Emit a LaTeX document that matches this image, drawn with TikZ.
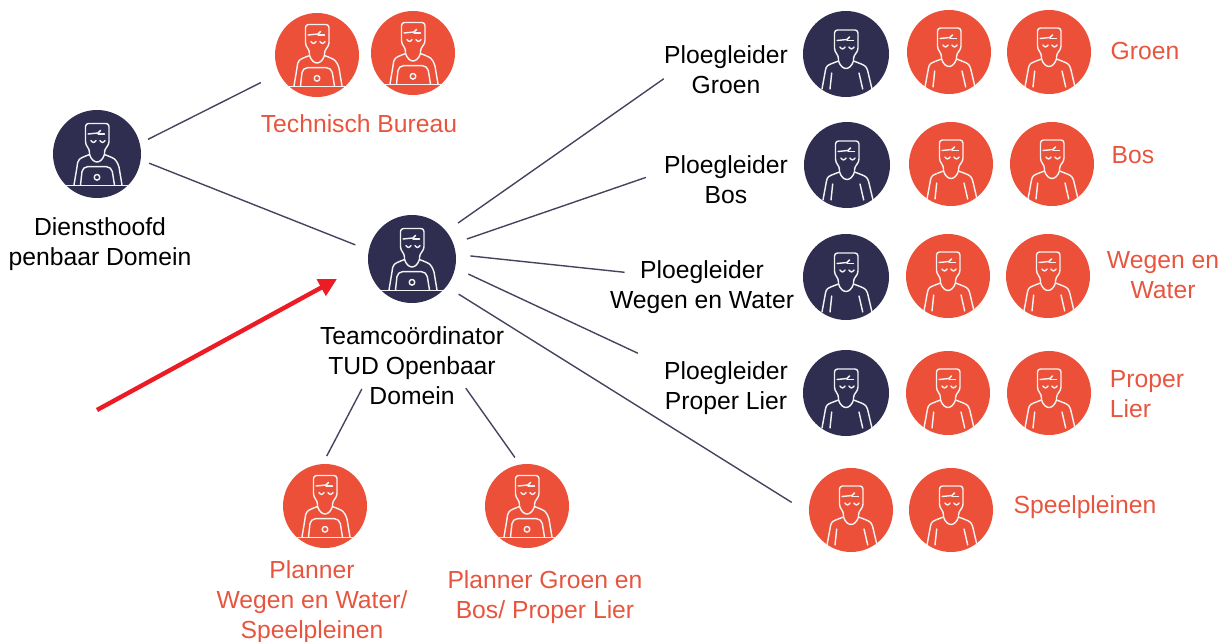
\documentclass[tikz,border=0pt]{standalone}
\usepackage{fontspec}
\setmainfont{Liberation Sans}
\usetikzlibrary{arrows.meta}

\definecolor{darkblue}{HTML}{2F2E50}
\definecolor{tomato}{HTML}{EC5039}
\definecolor{tomatotext}{HTML}{E8553F}
\definecolor{linkgray}{HTML}{45445F}
\definecolor{arrowred}{HTML}{ED1C24}

% head with hair and eyes, shared by both icons
\newcommand{\workerhead}{
    \draw[iconline, rounded corners=1.5pt] (-7.5,7) -- (-7.5,2) -- (-11.5,-3) -- (-11.5,-24) -- (12,-24) -- (12,-3) -- (7.5,2) -- (7.5,7);
    \draw[iconline] (-7.5,7) .. controls (-4,17) and (4,17) .. (7.5,7);
    \draw[iconline] (-9,-13.5) -- (1,-14.5) -- (3.5,-17);
    \draw[iconline] (1,-13.5) -- (7.5,-13.5);
    \draw[iconline] (-6,-7) .. controls (-4.5,-4.5) and (-2.5,-4.5) .. (-1,-7);
    \draw[iconline] (3,-7) .. controls (4.5,-4.5) and (6.5,-4.5) .. (8,-7);
}

\tikzset{
    darkperson/.style={circle, fill=darkblue, minimum size=44pt, inner sep=0pt, outer sep=7.2pt},
    rowperson/.style={darkperson, minimum size=43pt},
    redperson/.style={circle, fill=tomato, minimum size=42pt, inner sep=0pt, outer sep=4pt},
    iconline/.style={white!90!gray, line width=0.72pt, line cap=round, line join=round},
    link/.style={linkgray, line width=0.7pt},
    blacktext/.style={align=center, inner sep=0pt, text=black, font=\fontsize{12.35}{15}\selectfont},
    redtext/.style={blacktext, text=tomatotext},
    pics/worker/.style={code={
        \workerhead
        \draw[iconline] (-24,35) -- (-20.5,16) .. controls (-19.5,11.5) .. (-7.5,7);
        \draw[iconline] (7.5,7) .. controls (19.5,11.5) .. (21.5,16) -- (26,35);
        \draw[iconline] (-16,35) -- (-14.3,19);
        \draw[iconline] (16.7,35) -- (13,19);
    }},
    pics/laptopworker/.style={code={
        \begin{scope}[shift={(0,-6.5)}]
            \workerhead
        \end{scope}
        \draw[iconline] (-23,31) -- (-20,13) .. controls (-19,5) .. (-7.5,0.5);
        \draw[iconline] (7.5,0.5) .. controls (19,5) .. (22,13) -- (25,31);
        \draw[iconline, rounded corners=2.5pt] (-16.5,31) -- (-14.5,12.7) -- (14.5,12.7) -- (17.5,31);
        \draw[iconline] (0,23.3) circle (1.4pt);
        \draw[iconline] (-30.5,31.7) -- (31,31.7);
    }}
}

\begin{document}
\begin{tikzpicture}[x=0.5pt, y=-0.5pt]
    \useasboundingbox (0,0) rectangle (1227,642);

    % People with a laptop
    \foreach \name/\kind/\x/\y in {
        team/darkperson/412/259,
        tbone/redperson/317/55, tbtwo/redperson/413/53,
        plannerone/redperson/325/506, plannertwo/redperson/527/506} {
        \node[\kind] (\name) at (\x,\y) {};
        \pic at (\name) {laptopworker};
    }
    \node[darkperson, outer sep=4.5pt] (hoofd) at (97,154) {};
    \pic at (hoofd) {laptopworker};

    % People without a laptop, row by row
    \foreach \name/\kind/\x/\y in {
        groenlead/rowperson/846/54, groenone/redperson/949/52, groentwo/redperson/1049/52,
        boslead/rowperson/847/165, bosone/redperson/951/164, bostwo/redperson/1052/164,
        wegenlead/rowperson/846/277, wegenone/redperson/948/276, wegentwo/redperson/1048/276,
        properlead/rowperson/846/393, properone/redperson/948/393, propertwo/redperson/1049/393,
        speelone/redperson/851/510, speeltwo/redperson/951/510} {
        \node[\kind] (\name) at (\x,\y) {};
        \pic at (\name) {worker};
    }

    % Black labels
    \node[blacktext] (hoofdlabel) at (100,244) {Diensthoofd\hspace{9pt}\\penbaar Domein};
    \node[blacktext] (teamlabel) at (412,365.5) {Teamcoördinator\\TUD Openbaar\\Domein};
    \node[blacktext] (plgroen) at (726,70) {Ploegleider\\Groen};
    \node[blacktext] (plbos) at (726,180) {Ploegleider\\Bos};
    \node[blacktext] (plwegen) at (702,287) {Ploegleider\\Wegen en Water};
    \node[blacktext] (plproper) at (726,388) {Ploegleider\\Proper Lier};

    % Red labels
    \node[redtext] (tblabel) at (359,124) {Technisch Bureau};
    \node[redtext] (plannerlabelone) at (312,602) {Planner\\Wegen en Water/\\Speelpleinen};
    \node[redtext] (plannerlabeltwo) at (545,597) {Planner Groen en\\Bos/ Proper Lier};
    \node[redtext] (groenlabel) at (1145,51) {Groen};
    \node[redtext] (boslabel) at (1133,155) {Bos};
    \node[redtext] (wegenlabel) at (1163,275) {Wegen en\\Water};
    \node[redtext, align=left] (properlabel) at (1147,394) {Proper\\Lier};
    \node[redtext] (speellabel) at (1085,507) {Speelpleinen};

    % Connectors
    \draw[link, shorten >=6.3pt] (hoofd.16) -- (tbone.206.6);
    \draw[link] (hoofd.-10) -- (team.166);
    \draw[link] (team.38) -- (plgroen.188);
    \draw[link, shorten >=9.5pt] (team.20.5) -- (plbos.172);
    \draw[link, shorten >=-7.5pt] (team.3) -- (plwegen.170);
    \draw[link, shorten >=14.3pt] (team.-15) -- (plproper.160.5);
    \draw[link, shorten >=5.5pt] (team.-37.5) -- (speelone.178);
    \draw[link, shorten <=-9pt] (teamlabel.214.3) -- (plannerone.88);
    \draw[link, shorten <=-10.3pt] (teamlabel.-31.2) -- (plannertwo.104);

    % Red arrow
    \coordinate (arrowstart) at (97,410);
    \coordinate (arrowtip) at (337,279);
    \draw[arrowred, line width=2.2pt, -{Triangle[length=9pt, width=9pt]}] (arrowstart) -- (arrowtip);
\end{tikzpicture}
\end{document}
